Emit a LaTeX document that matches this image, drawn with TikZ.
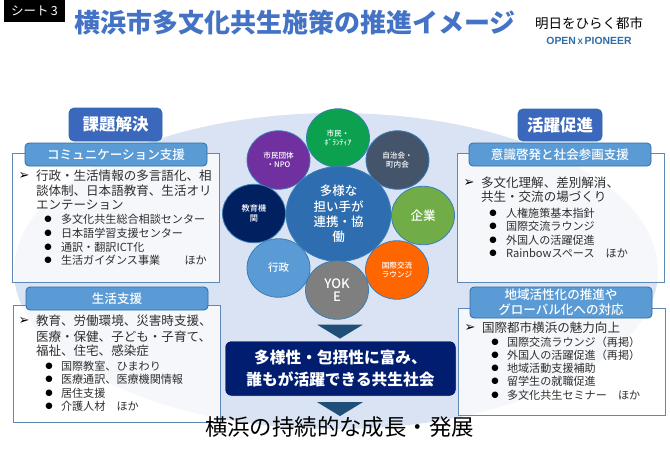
\documentclass[tikz,border=0pt]{standalone}
\usepackage{fontspec}
\setmainfont{Noto Sans CJK JP}
\newfontfamily\djfont{DejaVu Sans}
\newfontfamily\latfont{Liberation Sans}
\newfontfamily\jpmed{Noto Sans CJK JP Medium}
\usetikzlibrary{shapes.geometric}
\definecolor{ell}{HTML}{DAE3F3}
\definecolor{hblue}{HTML}{5B9BD5}
\definecolor{hedge}{HTML}{2E6DA8}
\definecolor{mblue}{HTML}{3B68BC}
\definecolor{boxedge}{HTML}{5F88B5}
\definecolor{cedge}{HTML}{3A7DB8}
\definecolor{navy}{HTML}{001D70}
\definecolor{tri}{HTML}{1F4E79}
\definecolor{ttl}{HTML}{4472C4}
\definecolor{body}{HTML}{2F2F2F}
\definecolor{cgreen}{HTML}{0BA14F}
\definecolor{cpurple}{HTML}{7030A0}
\definecolor{cslate}{HTML}{44546A}
\definecolor{cnavy}{HTML}{002060}
\definecolor{cleaf}{HTML}{70AD47}
\definecolor{clight}{HTML}{5B9BD5}
\definecolor{corange}{HTML}{FF6600}
\definecolor{cgrey}{HTML}{7F7F7F}
\definecolor{ccentre}{HTML}{2E6DB0}
\newcommand{\fs}[1]{\fontsize{#1}{#1}\selectfont}
\tikzset{
  plain/.style={inner sep=0pt,outer sep=0pt},
  line/.style={plain,anchor=west,text=body,font=\fs{12.55}},
  subline/.style={plain,anchor=west,text=body,font=\fs{11.1}},
  bul/.style={plain,text=black,font=\djfont\fs{8.5}},
  arr/.style={plain,text=black,font=\djfont\fs{13}},
  infobox/.style={draw=boxedge,line width=.9pt,fill=white,fill opacity=.75,text opacity=1,plain,anchor=north west},
  head/.style={draw=hedge,line width=.8pt,fill=hblue,rounded corners=4pt,plain,text=white,font=\jpmed\fs{12.55},align=center,anchor=center},
  bighead/.style={draw=hedge,line width=.8pt,fill=mblue,rounded corners=5pt,plain,text=white,font=\bfseries\fs{16.5},anchor=center},
  petal/.style={ellipse,draw=cedge,line width=.8pt,plain,text=white,font=\jpmed\fs{7.6},align=center,minimum width=63pt,minimum height=58.5pt},
}
\begin{document}
\begin{tikzpicture}[x=1pt,y=-1pt]
\useasboundingbox (0,0) rectangle (670,451);
\fill[white] (0,0) rectangle (670,451);
\node[plain,ellipse,fill=ell,minimum width=644pt,minimum height=316pt] (bg) at (336,271) {};

% header
\node[plain,fill=black,text=white,minimum width=61pt,minimum height=22pt,anchor=north west,font=\fs{12.5}] (sheet) at (4,0) {シート\,3};
\node[plain,text=ttl,font=\bfseries\fs{26}] (title) at (295,23) {横浜市多文化共生施策の推進イメージ};
\node[plain,text=black,font=\fs{13.5}] (logo) at (589,23) {明日をひらく都市};
\node[plain,text=hedge,font=\latfont\bfseries\fs{10.4}] (open) at (589,40.5) {OPEN\,{\fs{8}X}\,PIONEER};

% boxes
\node[infobox,minimum width=207pt,minimum height=129pt] (b1) at (12,153) {};
\node[infobox,minimum width=207pt,minimum height=117pt] (b2) at (13,305) {};
\node[infobox,minimum width=207pt,minimum height=129pt] (b3) at (457,153) {};
\node[infobox,minimum width=207pt,minimum height=107pt] (b4) at (458,308) {};

\node[bighead,minimum width=93pt,minimum height=33pt] (h0) at (115.5,124.5) {課題解決};
\node[bighead,minimum width=84pt,minimum height=32pt] (h00) at (560,125) {活躍促進};
\node[head,minimum width=182pt,minimum height=23pt] (h1) at (116,154.5) {コミュニケーション支援};
\node[head,minimum width=182pt,minimum height=23pt] (h2) at (117,298.5) {生活支援};
\node[head,minimum width=182pt,minimum height=23pt] (h3) at (560,154.5) {意識啓発と社会参画支援};
\node[head,minimum width=182pt,minimum height=31pt] (h4) at (561,302.5) {地域活性化の推進や\\[2.6pt]グローバル化への対応};

% box 1
\node[arr] (a1) at (24,176) {➢};
\node[line] (l11) at (36,176) {行政・生活情報の多言語化、相};
\node[line] (l12) at (36,190.5) {談体制、日本語教育、生活オリ};
\node[line] (l13) at (36,205) {エンテーション};
\foreach \n/\y/\t in {1/219/多文化共生総合相談センター,2/233/日本語学習支援センター,3/247/{通訳・翻訳ICT化},4/260/{生活ガイダンス事業\hspace{2.2em}ほか}}{
  \node[bul] (p1\n) at (48,\y) {●};
  \node[subline] (s1\n) at (61,\y) {\t};
}
% box 2
\node[arr] (a2) at (24,321) {➢};
\node[line] (l21) at (36,321) {教育、労働環境、災害時支援、};
\node[line] (l22) at (36,336.5) {医療・保健、子ども・子育て、};
\node[line] (l23) at (36,351) {福祉、住宅、感染症};
\foreach \n/\y/\t in {1/366/国際教室、ひまわり,2/379/医療通訳、医療機関情報,3/393/居住支援,4/406/{介護人材\hspace{1em}ほか}}{
  \node[bul] (p2\n) at (49,\y) {●};
  \node[subline] (s2\n) at (61,\y) {\t};
}
% box 3
\node[arr] (a3) at (469,183) {➢};
\node[line] (l31) at (481,183) {多文化理解、差別解消、};
\node[line] (l32) at (481,197) {共生・交流の場づくり};
\foreach \n/\y/\t in {1/213/人権施策基本指針,2/226/国際交流ラウンジ,3/240/外国人の活躍促進,4/253/{Rainbowスペース\hspace{1em}ほか}}{
  \node[bul] (p3\n) at (493,\y) {●};
  \node[subline] (s3\n) at (506,\y) {\t};
}
% box 4
\node[arr] (a4) at (470,328) {➢};
\node[line] (l41) at (482,328) {国際都市横浜の魅力向上};
\foreach \n/\y/\t in {1/342/国際交流ラウンジ（再掲）,2/355/外国人の活躍促進（再掲）,3/368/地域活動支援補助,4/381/留学生の就職促進,5/395/{多文化共生セミナー\hspace{1em}ほか}}{
  \node[bul] (p4\n) at (495,\y) {●};
  \node[subline] (s4\n) at (507,\y) {\t};
}

% circles
\node[petal,fill=cgreen] (c1) at (338,138) {市民・\\[1.5pt]ﾎﾞﾗﾝﾃｨｱ};
\node[petal,fill=cpurple] (c2) at (278.5,160) {市民団体\\[1.2pt]・NPO};
\node[petal,fill=cslate] (c3) at (397.5,160) {自治会・\\[1.2pt]町内会};
\node[petal,fill=cnavy,font=\jpmed\fs{8.2}] (c4) at (254,213.5) {教育機\\[1.2pt]関};
\node[petal,fill=cleaf,font=\jpmed\fs{12.5}] (c5) at (423,215.5) {企業};
\node[petal,fill=clight,font=\jpmed\fs{10.5}] (c6) at (278.5,268) {行政};
\node[petal,fill=corange] (c7) at (397,270) {国際交流\\[1.2pt]ラウンジ};
\node[petal,fill=ccentre,minimum width=105pt,minimum height=95pt,font=\jpmed\fs{12.5},text width=60pt] (cc) at (338.5,214) {多様な\\[2.8pt]担い手が\\[2.8pt]連携・協\\[2.8pt]働};
\node[petal,fill=cgrey,font=\jpmed\fs{13}] (c8) at (337,290) {YOK\\[.3pt]E};

% flow
\node[plain,isosceles triangle,isosceles triangle apex angle=116,isosceles triangle stretches,shape border rotate=-90,fill=tri,minimum width=46pt,minimum height=14pt] (t1) at (340,331) {};
\node[plain,rounded corners=6pt,fill=navy,draw=white,line width=.5pt,minimum width=231pt,minimum height=55pt,text=white,font=\bfseries\fs{15.7},align=center] (goal) at (340.5,368.5) {多様性・包摂性に富み、\\[5.5pt]誰もが活躍できる共生社会};
\node[plain,isosceles triangle,isosceles triangle apex angle=116,isosceles triangle stretches,shape border rotate=-90,fill=tri,minimum width=46pt,minimum height=14pt] (t2) at (340,408.5) {};
\node[plain,text=black,font=\fs{22.4}] (end) at (339.5,427) {横浜の持続的な成長・発展};
\end{tikzpicture}
\end{document}
